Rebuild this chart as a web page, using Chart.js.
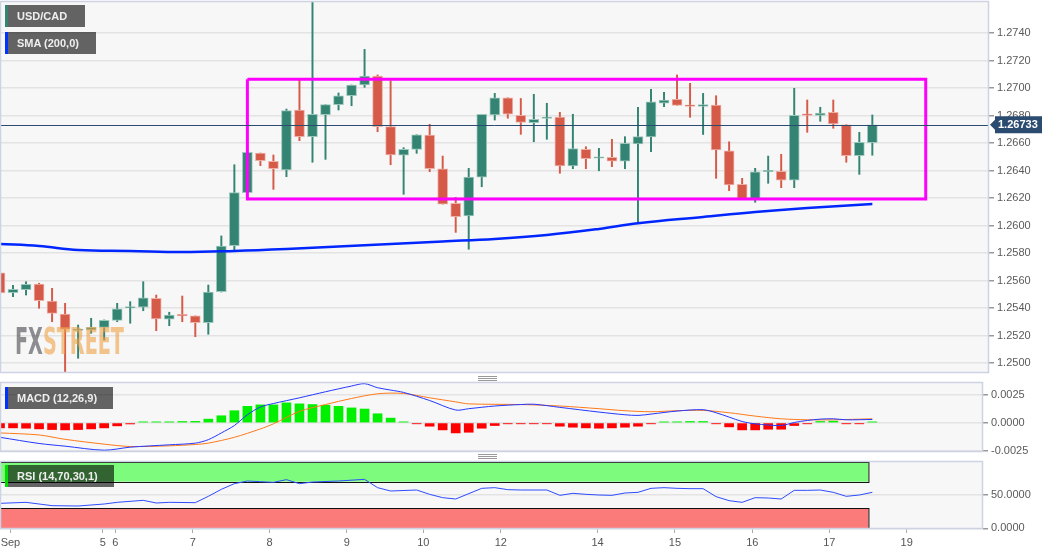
<!DOCTYPE html>
<html>
<head>
<meta charset="utf-8">
<script src="https://cdn.jsdelivr.net/npm/chart.js@4.4.1/dist/chart.umd.min.js"></script>
<style>
body{margin:0;background:#fff;width:1060px;height:555px;overflow:hidden;position:relative;font-family:"Liberation Sans",Arial,sans-serif}
canvas{position:absolute;left:0}
.tag{position:absolute;left:5px;height:22px;line-height:22px;color:#eee;font-weight:bold;font-size:11px;padding-left:9px;box-sizing:border-box;border-left:3px solid;background:rgba(0,0,0,0.6);z-index:3}
.handle{position:absolute;left:478px;width:19px;height:1px;background:#999;box-shadow:0 2px #999,0 4px #999;z-index:3}
#wm{position:absolute;left:15px;top:323px;font-family:"DejaVu Sans Condensed","DejaVu Sans",sans-serif;font-weight:bold;font-size:37px;line-height:37px;white-space:nowrap;transform-origin:0 0;opacity:0.6;z-index:2}
</style>
</head>
<body>
<canvas id="main" width="1060" height="376" style="top:0"></canvas>
<canvas id="macd" width="1060" height="82" style="top:376px"></canvas>
<canvas id="rsi" width="1060" height="100" style="top:455px"></canvas>
<div class="tag" style="top:5px;width:80px;border-color:#338472">USD/CAD</div>
<div class="tag" style="top:32px;width:91px;border-color:#0033ff">SMA (200,0)</div>
<div class="tag" style="top:387px;width:108px;border-color:#0033ff">MACD (12,26,9)</div>
<div class="tag" style="top:465px;width:109px;border-color:#00dd00">RSI (14,70,30,1)</div>
<div class="handle" style="top:376px"></div>
<div class="handle" style="top:454px"></div>
<div id="wm"><span style="color:#46464e">FX</span><span style="color:#eea043">STREET</span></div>
<script>
// 4h candles, index 0..67
const open = [1.25655,1.25511,1.25533,1.25574,1.25451,1.25356,1.25236,1.25240,1.25259,1.25310,
  1.25400,1.25405,1.25470,1.25318,1.25347,1.25342,1.25293,1.25518,1.25853,1.26239,
  1.26527,1.26467,1.26404,1.26840,1.26646,1.26806,1.26879,1.26944,1.27022,1.27087,
  1.26719,1.26511,1.26554,1.26658,1.26413,1.26161,1.26069,1.26351,1.26804,1.26929,
  1.26801,1.26748,1.26778,1.26789,1.26433,1.26554,1.26489,1.26496,1.26467,1.26593,
  1.26644,1.26889,1.26918,1.26876,1.26867,1.26876,1.26544,1.26300,1.26193,1.26391,
  1.26394,1.26329,1.26806,1.26801,1.26823,1.26733,1.26508,1.26602];
const high = [1.25676,1.25565,1.25591,1.25580,1.25543,1.25434,1.25276,1.25325,1.25313,1.25434,
  1.25446,1.25591,1.25494,1.25369,1.25487,1.25342,1.25567,1.25924,1.26442,1.26535,
  1.26527,1.26513,1.26847,1.27068,1.27623,1.26879,1.26964,1.27022,1.27281,1.27095,
  1.27051,1.26566,1.26660,1.26736,1.26505,1.26205,1.26416,1.26809,1.26961,1.26929,
  1.26924,1.26954,1.26889,1.26823,1.26809,1.26573,1.26561,1.26627,1.26646,1.26860,
  1.26991,1.26969,1.27095,1.27034,1.26961,1.26944,1.26609,1.26343,1.26416,1.26505,
  1.26518,1.26998,1.26913,1.26860,1.26913,1.26733,1.26678,1.26804];
const low = [1.25502,1.25482,1.25494,1.25398,1.25300,1.24932,1.25034,1.25216,1.25167,1.25300,
  1.25289,1.25380,1.25235,1.25271,1.25300,1.25191,1.25209,1.25516,1.25822,1.26236,
  1.26435,1.26263,1.26355,1.26617,1.26460,1.26481,1.26840,1.26871,1.27005,1.26682,
  1.26442,1.26227,1.26525,1.26391,1.26156,1.25950,1.25827,1.26282,1.26767,1.26780,
  1.26663,1.26609,1.26627,1.26380,1.26413,1.26413,1.26398,1.26428,1.26413,1.26016,
  1.26537,1.26864,1.26874,1.26787,1.26662,1.26343,1.26253,1.26193,1.26169,1.26307,
  1.26275,1.26275,1.26678,1.26758,1.26707,1.26460,1.26372,1.26511];
const close = [1.25509,1.25536,1.25572,1.25453,1.25361,1.25245,1.25240,1.25259,1.25310,1.25393,
  1.25407,1.25473,1.25320,1.25349,1.25342,1.25293,1.25516,1.25851,1.26239,1.26532,
  1.26471,1.26413,1.26835,1.26646,1.26809,1.26879,1.26944,1.27022,1.27087,1.26719,
  1.26513,1.26554,1.26660,1.26413,1.26156,1.26064,1.26353,1.26809,1.26929,1.26809,
  1.26749,1.26772,1.26782,1.26433,1.26559,1.26486,1.26491,1.26467,1.26598,1.26646,
  1.26900,1.26913,1.26874,1.26867,1.26880,1.26549,1.26295,1.26193,1.26391,1.26396,
  1.26329,1.26801,1.26801,1.26818,1.26738,1.26508,1.26605,1.26733];

const smaX = [0,3,6,10,14,18,22,26,30,34,38,42,46,49,54,58,62,67];
const smaVals = [1.25866,1.25851,1.25822,1.25815,1.25807,1.25815,1.25829,1.25847,1.25866,1.25884,
  1.25902,1.25931,1.25975,1.26016,1.26062,1.26098,1.26127,1.26156];

// range box drawn on the chart
const boxX = [19, 71.1];
const boxY = [1.26193, 1.27063];

const priceTicks = [1.2500,1.2520,1.2540,1.2560,1.2580,1.2600,1.2620,1.2640,1.2660,1.2680,1.2700,1.2720,1.2740];

const hist = [-0.00045,-0.00045,-0.00048,-0.00054,-0.00060,-0.00063,-0.00060,-0.00054,-0.00045,-0.00027,
  -0.00010,0.00005,0.00006,0.00009,0.00012,0.00013,0.00033,0.00063,0.00108,0.00147,
  0.00160,0.00160,0.00178,0.00169,0.00163,0.00157,0.00147,0.00133,0.00123,0.00081,
  0.00042,0.00008,-0.00004,-0.00030,-0.00063,-0.00090,-0.00084,-0.00048,-0.00024,-0.00006,
  -0.00006,-0.00003,-0.00003,-0.00030,-0.00039,-0.00045,-0.00048,-0.00045,-0.00039,-0.00030,
  -0.00006,0.00003,0.00009,0.00012,0.00012,-0.00003,-0.00036,-0.00063,-0.00063,-0.00057,
  -0.00057,-0.00024,-0.00003,0.00012,0.00015,-0.00003,-0.00003,0.00001];
const macdX = [0,3,5,8,10,13,15,16,17,18,19,20,21,23,25,27,28,29,30,31,33,35,36,38,40,41,43,46,48,49,50,52,54,55,56,57,58,60,61,62,63,64,65,67];
const macdVals = [-0.00129,-0.00184,-0.00208,-0.00244,-0.00217,-0.00196,-0.00181,-0.00150,-0.00090,-0.00024,
  0.00072,0.00141,0.00172,0.00223,0.00277,0.00328,0.00349,0.00313,0.00292,0.00271,
  0.00199,0.00114,0.00126,0.00150,0.00163,0.00166,0.00138,0.00096,0.00072,0.00066,
  0.00078,0.00105,0.00117,0.00090,0.00051,0.00012,-0.00009,-0.00024,0.00003,0.00021,
  0.00033,0.00036,0.00027,0.00030];
const sigX = [0,3,5,8,10,13,15,16,18,20,21,23,25,27,29,31,33,35,36,40,43,46,48,50,52,54,56,58,60,62,64,67];
const sigVals = [-0.00090,-0.00108,-0.00147,-0.00190,-0.00211,-0.00205,-0.00193,-0.00181,-0.00129,-0.00054,
  -0.00009,0.00102,0.00163,0.00217,0.00259,0.00262,0.00223,0.00187,0.00169,0.00163,
  0.00150,0.00126,0.00108,0.00099,0.00108,0.00111,0.00090,0.00060,0.00036,0.00027,
  0.00027,0.00036];
const macdTicks = [-0.0025, 0, 0.0025];

const rsiX = [0,2,4,6,8,9,11,12,13,15,16,17,18,19,20,21,22,23,24,26,28,29,30,32,33,34,35,37,38,39,
  40,41,42,43,44,45,46,47,48,49,50,51,52,53,54,55,56,57,58,59,60,61,62,63,64,65,66,67];
const rsiVals = [37.5,39,34,33.5,36.5,39,42,38,39,38.5,48,58.5,67,71,70,69,73,67,69.5,71,
  73.5,61,56,57.5,51,46,44,60,61,58,57.5,57.5,57.5,49.5,52.5,51,50,49.5,53,54,
  60,61,60,59.5,59.5,47.5,41.5,39,46,45.5,44,57,57,57.5,54,48,50,54];
const rsiTicks = [0, 50];
const rsiHigh = [70, 100];
const rsiLow = [0, 30];
const zoneEnd = 66.7;

const dayPos = [0.8,7.89,8.86,14.8,20.71,26.63,32.51,38.46,45.9,51.84,57.78,63.69,69.64];
const dayLabels = ['Sep','5','6','7','8','9','10','12','14','15','16','17','19'];

const UP = '#338472', DOWN = '#d55a48';
const idx = open.map((_, i) => i);
const isUp = idx.map(i => close[i] >= open[i]);
const tickFont = {family: '"Liberation Sans", Arial, sans-serif', size: 11};

const framePlugin = {
  id: 'frame',
  beforeDraw(chart) {
    const a = chart.chartArea, c = chart.ctx;
    c.save();
    c.fillStyle = '#f7f7f7';
    c.fillRect(a.left, a.top, a.right - a.left, a.bottom - a.top);
    c.restore();
  },
  afterDraw(chart) {
    const a = chart.chartArea, c = chart.ctx;
    c.save();
    c.strokeStyle = '#cdd3e4';
    c.lineWidth = 1.5;
    c.strokeRect(a.left + 0.5, a.top + 0.5, a.right - a.left - 1, a.bottom - a.top - 1);
    c.restore();
  }
};

function yAxis(ticks, min, max, width) {
  return {
    position: 'right', min: min, max: max,
    afterBuildTicks: ax => { ax.ticks = ticks.map(v => ({value: v})); },
    afterFit: ax => { ax.width = width; ax.paddingTop = 0; ax.paddingBottom = 0; },
    ticks: {font: tickFont, color: '#5a5a5a', padding: 3, callback: v => v.toFixed(4)},
    grid: {color: '#e3e3e3', lineWidth: 1.5, tickLength: 5, tickColor: '#999'},
    border: {display: false}
  };
}
function xHidden(max) {
  return {type: 'linear', min: 0, max: max, offset: false, display: false};
}
const base = {
  responsive: false, animation: false,
  plugins: {legend: {display: false}, tooltip: {enabled: false}}
};

// price line + last price tag
const lastPrice = close[close.length - 1];
const priceTag = {
  id: 'priceTag',
  afterDatasetsDraw(chart) {
    const a = chart.chartArea, c = chart.ctx;
    const y = Math.round(chart.scales.y.getPixelForValue(lastPrice)) + 0.5;
    c.save();
    c.strokeStyle = '#2c4b70';
    c.lineWidth = 1;
    c.beginPath(); c.moveTo(a.left, y); c.lineTo(a.right, y); c.stroke();
    c.restore();
  },
  afterDraw(chart) {
    const a = chart.chartArea, c = chart.ctx;
    const y = chart.scales.y.getPixelForValue(lastPrice);
    const x0 = a.right + 1;
    c.save();
    c.fillStyle = '#2c4b70';
    c.beginPath();
    c.moveTo(x0, y);
    c.lineTo(x0 + 5, y - 5);
    c.lineTo(x0 + 5, y - 8.5);
    c.lineTo(x0 + 52, y - 8.5);
    c.lineTo(x0 + 52, y + 8.5);
    c.lineTo(x0 + 5, y + 8.5);
    c.lineTo(x0 + 5, y + 5);
    c.closePath();
    c.fill();
    c.fillStyle = '#fff';
    c.font = 'bold 11px "Liberation Sans", Arial, sans-serif';
    c.textBaseline = 'middle';
    c.fillText(lastPrice.toFixed(5), x0 + 8, y + 0.5);
    c.restore();
  }
};

new Chart(document.getElementById('main'), {
  type: 'bar',
  data: {
    datasets: [
      {
        type: 'line', order: 0,
        data: [{x: boxX[0], y: boxY[1]}, {x: boxX[1], y: boxY[1]}, {x: boxX[1], y: boxY[0]},
               {x: boxX[0], y: boxY[0]}, {x: boxX[0], y: boxY[1]}],
        borderColor: '#ff00ff', borderWidth: 3, pointRadius: 0, tension: 0
      },
      {
        type: 'line', order: 0,
        data: smaX.map((x, k) => ({x: x, y: smaVals[k]})),
        borderColor: '#0026ff', borderWidth: 2.5, pointRadius: 0, tension: 0.4
      },
      {
        order: 1, grouped: false,
        data: idx.map(i => ({x: i, y: [open[i], close[i]]})),
        backgroundColor: idx.map(i => isUp[i] ? UP : DOWN),
        borderColor: idx.map(i => isUp[i] ? '#9cc7bc' : '#eeb0a6'),
        borderWidth: 1, borderSkipped: false, barThickness: 10, minBarLength: 1.5
      },
      {
        order: 2, grouped: false,
        data: idx.map(i => ({x: i, y: [low[i], high[i]]})),
        backgroundColor: idx.map(i => isUp[i] ? UP : DOWN),
        barThickness: 1.3
      }
    ]
  },
  options: Object.assign({}, base, {
    layout: {padding: {top: 1, bottom: 3, left: 0, right: 0}},
    scales: {
      x: xHidden(989 / 13.02),
      y: yAxis(priceTicks, 1.24927, 1.27633, 71)
    }
  }),
  plugins: [framePlugin, priceTag]
});

new Chart(document.getElementById('macd'), {
  type: 'bar',
  data: {
    datasets: [
      {
        type: 'line', order: 0,
        data: macdX.map((x, k) => ({x: x, y: macdVals[k]})),
        borderColor: '#2438ff', borderWidth: 1, pointRadius: 0, tension: 0.3
      },
      {
        type: 'line', order: 0,
        data: sigX.map((x, k) => ({x: x, y: sigVals[k]})),
        borderColor: '#ff7a1a', borderWidth: 1, pointRadius: 0, tension: 0.3
      },
      {
        order: 1,
        data: idx.map(i => ({x: i, y: hist[i]})),
        backgroundColor: idx.map(i => hist[i] >= 0 ? '#00f000' : '#ff0000'),
        barThickness: 9, minBarLength: 1
      }
    ]
  },
  options: Object.assign({}, base, {
    layout: {padding: {top: 6, bottom: 6, left: 0, right: 0}},
    scales: {
      x: xHidden(983 / 13.02),
      y: yAxis(macdTicks, -0.0026, 0.00364, 77)
    }
  }),
  plugins: [framePlugin]
});

const zonePlugin = {
  id: 'zones',
  beforeDatasetsDraw(chart) {
    const xs = chart.scales.x, ys = chart.scales.y, c = chart.ctx;
    const x0 = xs.getPixelForValue(0), x1 = xs.getPixelForValue(zoneEnd);
    [[rsiHigh, '#7dfb7d'], [rsiLow, '#fb7b7b']].forEach(([z, col]) => {
      const yt = ys.getPixelForValue(z[1]), yb = ys.getPixelForValue(z[0]);
      c.save();
      c.fillStyle = col;
      c.fillRect(x0, yt, x1 - x0, yb - yt);
      c.strokeStyle = '#111';
      c.lineWidth = 1;
      c.strokeRect(x0 + 0.5, Math.round(yt) + 0.5, x1 - x0, Math.round(yb - yt));
      c.restore();
    });
  }
};

new Chart(document.getElementById('rsi'), {
  type: 'line',
  data: {
    datasets: [{
      data: rsiX.map((x, k) => ({x: x, y: rsiVals[k]})),
      borderColor: '#2e4cff', borderWidth: 1, pointRadius: 0, tension: 0
    }]
  },
  options: Object.assign({}, base, {
    layout: {padding: {top: 6, bottom: 0, left: 0, right: 0}},
    scales: {
      x: {
        type: 'linear', min: 0, max: 983 / 13.02, offset: false,
        afterBuildTicks: ax => { ax.ticks = dayPos.map(v => ({value: v})); },
        afterFit: ax => { ax.height = 26; ax.paddingLeft = 0; ax.paddingRight = 0; },
        ticks: {font: tickFont, color: '#555', maxRotation: 0, autoSkip: false, padding: 3,
                callback: (v, i) => dayLabels[i]},
        grid: {drawOnChartArea: false, tickLength: 4, tickColor: '#aaa'},
        border: {display: false}
      },
      y: yAxis(rsiTicks, -1, 101, 77)
    }
  }),
  plugins: [framePlugin, zonePlugin]
});

// squeeze the watermark to its width
const wm = document.getElementById('wm');
wm.style.transform = 'scaleX(' + (109 / wm.offsetWidth) + ')';
</script>
</body>
</html>
